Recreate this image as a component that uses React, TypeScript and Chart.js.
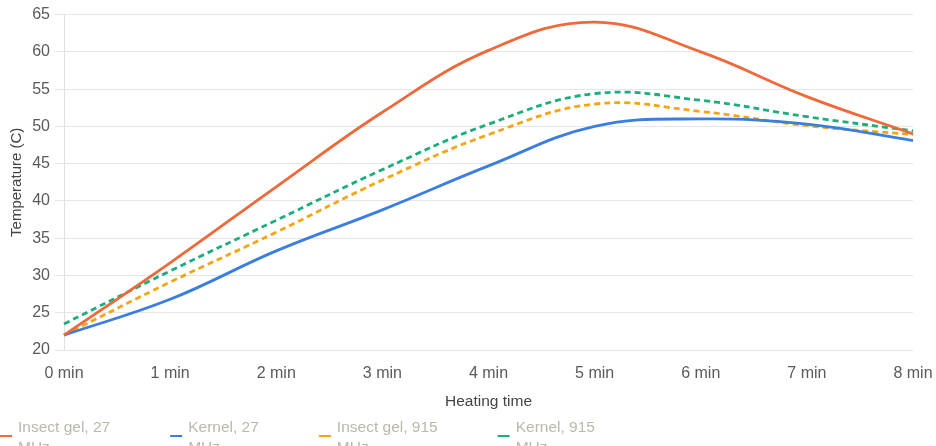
import React, { useEffect, useRef } from "react";
import { Chart, registerables } from "chart.js";

Chart.register(...registerables);

const minutes = [0, 1, 2, 3, 4, 5, 6, 7, 8];
const tickLabels = minutes.map((m) => `${m} min`);

const seriesNames = ["Insect gel, 27 MHz", "Kernel, 27 MHz", "Insect gel, 915 MHz", "Kernel, 915 MHz"];
const insectGel27 = [22, 31.7, 41.9, 51.9, 60.2, 64, 60, 54, 49];
const kernel27 = [22, 26.8, 33.3, 38.8, 44.7, 50, 51, 50.3, 48.1];
const insectGel915 = [22, 29.1, 35.8, 42.8, 48.9, 53, 52, 50.1, 48.9];
const kernel915 = [23.5, 30.6, 37.4, 44.2, 50.3, 54.4, 53.5, 51.3, 49.4];

const yMin = 20;
const yMax = 65;
const yStep = 5;

const FONT = "'Liberation Sans', Arial, sans-serif";

const legendPlugin = {
  id: "wrapLegend",
  afterDraw(chart: any) {
    const ctx = chart.ctx;
    ctx.save();
    ctx.font = `15.5px ${FONT}`;
    ctx.textBaseline = "middle";
    ctx.textAlign = "left";
    let x = 0;
    const y1 = 428;
    const y2 = 448;
    chart.data.datasets.forEach((ds: any) => {
      const label: string = ds.label;
      const idx = label.lastIndexOf(" ");
      const lines = [label.slice(0, idx), label.slice(idx + 1)];
      ctx.strokeStyle = ds.borderColor;
      ctx.lineWidth = 2;
      ctx.setLineDash([]);
      ctx.beginPath();
      ctx.moveTo(x, 436);
      ctx.lineTo(x + 12, 436);
      ctx.stroke();
      ctx.fillStyle = "#bcb7ac";
      ctx.fillText(lines[0], x + 18, y1);
      ctx.fillText(lines[1], x + 18, y2);
      const w = Math.max(ctx.measureText(lines[0]).width, ctx.measureText(lines[1]).width);
      x += 18 + w + 60;
    });
    ctx.restore();
  },
};

export default function App() {
  const ref = useRef<HTMLCanvasElement>(null);
  useEffect(() => {
    document.body.style.margin = "0";
    const mk = (label: string, data: number[], color: string, dash: number[]) => ({
      label,
      data,
      borderColor: color,
      backgroundColor: color,
      borderWidth: 2.8,
      borderDash: dash,
      pointRadius: 0,
      tension: 0.4,
      fill: false,
    });
    const chart = new Chart(ref.current!, {
      type: "line",
      data: {
        labels: tickLabels,
        datasets: [
          mk(seriesNames[0], insectGel27, "#ee6a3a", []),
          mk(seriesNames[1], kernel27, "#3a7fe0", []),
          mk(seriesNames[2], insectGel915, "#f5a50f", [6, 4]),
          mk(seriesNames[3], kernel915, "#1bae7d", [6, 4]),
        ],
      },
      options: {
        animation: false,
        responsive: true,
        maintainAspectRatio: false,
        layout: { padding: { top: 13, right: 23, bottom: 50, left: 0 } },
        plugins: { legend: { display: false }, tooltip: { enabled: false } },
        scales: {
          x: {
            type: "category",
            offset: false,
            grid: { display: false, drawTicks: true, tickLength: 14 },
            border: { display: false },
            ticks: { color: "#5a5a5a", font: { family: FONT, size: 16 }, padding: 0, maxRotation: 0 },
            title: {
              display: true,
              text: "Heating time",
              color: "#444",
              font: { family: FONT, size: 15.5 },
              padding: { top: 0, bottom: 9 },
            },
            afterFit: (s: any) => {
              s.height = 70;
            },
          },
          y: {
            min: yMin,
            max: yMax,
            grid: { color: "#e6e6e6", lineWidth: 1, tickLength: 9, drawTicks: true },
            border: { display: true, color: "#e0e0e0" },
            ticks: { stepSize: yStep, color: "#5a5a5a", font: { family: FONT, size: 16 }, padding: 5 },
            title: {
              display: true,
              text: "Temperature (C)",
              color: "#444",
              font: { family: FONT, size: 15 },
              padding: { top: 8, bottom: 0 },
            },
            afterFit: (s: any) => {
              s.width = 64;
            },
          },
        },
      },
      plugins: [legendPlugin],
    });
    return () => chart.destroy();
  }, []);
  return (
    <div style={{ position: "fixed", left: 0, top: 0, width: 936, height: 446, overflow: "hidden" }}>
      <div style={{ position: "relative", width: 936, height: 470 }}>
        <canvas ref={ref} />
      </div>
    </div>
  );
}
